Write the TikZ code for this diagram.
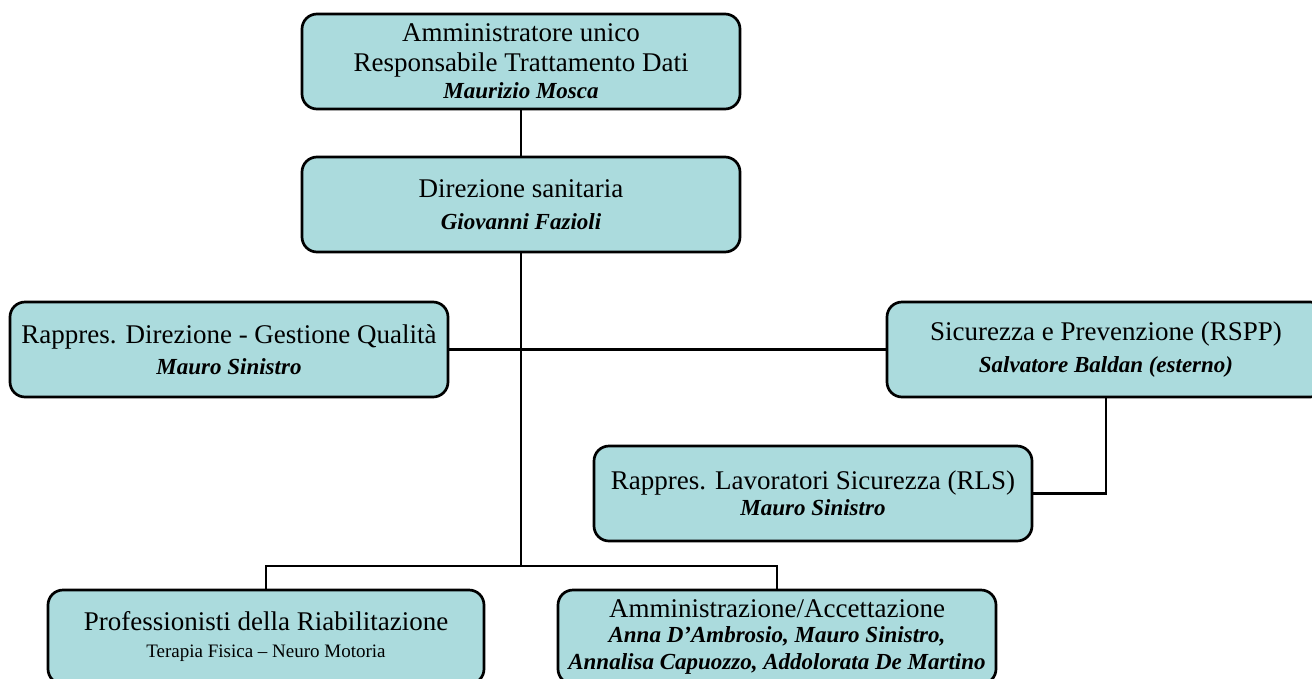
\documentclass[tikz,border=0pt]{standalone}
\usepackage{fontspec}
\setmainfont{Liberation Serif}
\definecolor{boxfill}{RGB}{171,219,221}
\begin{document}
\begin{tikzpicture}[x=1pt,y=-1pt,
  orgbox/.style={draw=black, fill=boxfill, line width=2.7pt, rounded corners=15pt,
    minimum width=438pt, minimum height=95pt, inner sep=0pt, align=center,
    font=\fontsize{27}{31}\selectfont},
  link/.style={draw=black, line width=2.7pt}]
\useasboundingbox (0,0) rectangle (1312,678);
\clip (0,0) rectangle (1312,678);
\newcommand{\pname}{\fontsize{23}{27}\selectfont\bfseries\itshape}
\newcommand{\subt}{\fontsize{19}{23}\selectfont}
\node[orgbox] (b1) at (521,61.5) {Amministratore unico\\[-1pt]Responsabile Trattamento Dati\\[-4pt]\pname Maurizio Mosca};
\node[orgbox] (b2) at (521,204.5) {Direzione sanitaria\\[1pt]\pname Giovanni Fazioli};
\node[orgbox] (b3) at (229,349.5) {Rappres. Direzione - Gestione Qualità\\[0pt]\pname Mauro Sinistro};
\node[orgbox] (b4) at (1106,349.5) {Sicurezza e Prevenzione (RSPP)\\[1pt]\pname Salvatore Baldan (esterno)};
\node[orgbox] (b5) at (813,493.5) {Rappres. Lavoratori Sicurezza (RLS)\\[-5pt]\pname Mauro Sinistro};
\node[orgbox, minimum width=436pt, minimum height=94pt] (b6) at (266,637) {Professionisti della Riabilitazione\\[-4pt]\subt Terapia Fisica – Neuro Motoria};
\node[orgbox, minimum height=94pt] (b7) at (777,637) {Amministrazione/Accettazione\\[-6pt]\pname Anna D’Ambrosio, Mauro Sinistro,\\[-4pt]\pname Annalisa Capuozzo, Addolorata De Martino};
\coordinate (j) at (521,566);
\draw[link] (b1.south) -- (b2.north);
\draw[link] (b2.south) -- (j);
\draw[link] (b3.east) -- (b4.west);
\draw[link] (b4.south) |- (b5.east);
\draw[link] (b6.north) |- (j) -| (b7.north);
\end{tikzpicture}
\end{document}
